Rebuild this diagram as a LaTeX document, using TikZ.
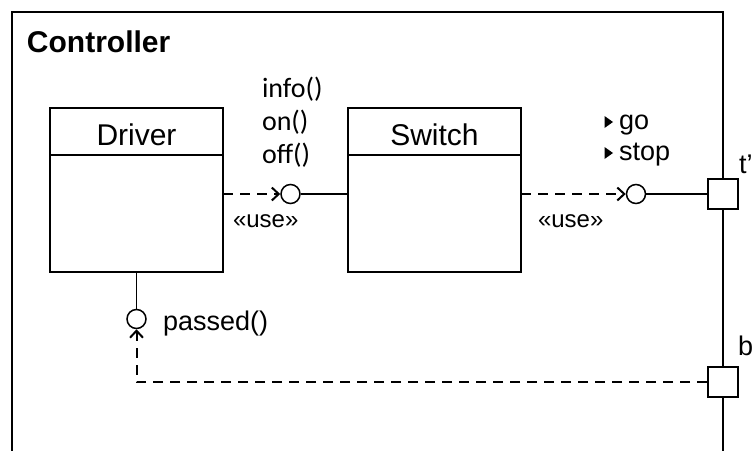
\documentclass[tikz,border=0pt]{standalone}
\usepackage{fontspec}
\setmainfont{Liberation Sans}
\newfontfamily\calfont{Carlito}
\usetikzlibrary{arrows.meta,positioning}

\begin{document}
\begin{tikzpicture}[x=1pt, y=-1pt, line width=2pt,
  box/.style={draw, rectangle, minimum width=173pt, inner sep=0pt, outer sep=0pt, font=\fontsize{30}{30}\selectfont},
  ball/.style={draw, circle, minimum size=19pt, inner sep=0pt, line width=1.5pt, fill=white},
  port/.style={draw, rectangle, minimum size=30pt, inner sep=0pt, fill=white},
  use/.style={dash pattern=on 10pt off 7pt, -{Straight Barb[length=7pt, width=13pt, line width=2pt]}},
  txt/.style={inner sep=0pt, anchor=base west, font=\fontsize{27}{27}\selectfont},
  small/.style={txt, font=\fontsize{24}{24}\selectfont},
  ops/.style={txt, font=\calfont\fontsize{28}{28}\selectfont},
  tri/.style={fill, line width=0pt}]
\useasboundingbox (0,0) rectangle (752,450);
% outer frame, runs on below the page
\draw (12,12) rectangle (723,480);
\node (0)[txt, font=\bfseries\fontsize{30}{30}\selectfont] at (26,52) {Controller};

% the two classes
\node (1)[box, minimum height=47pt, text height=29pt, anchor=north west] at (50,108) {Driver};
\node (2)[box, minimum height=117pt, anchor=north] at (1.south) {};
\node (3)[box, minimum height=47pt, text height=29pt, anchor=north west] at (348,108) {Switch};
\node (4)[box, minimum height=117pt, anchor=north] at (3.south) {};

% interfaces and ports
\node (5)[ball] at (290.5,194) {};
\node (6)[ball] at (636,194) {};
\node (7)[port] at (723,194) {};
\node (8)[port] at (723,382) {};
\node (9)[ball] at (2.south |- 0,319) {};

\node (10)[ops] at (261,97) {info()};
\node (11)[ops] at (261,130) {on()};
\node (12)[ops] at (261,163) {off()};
\node (13)[txt] at (618,129) {go};
\node (14)[txt] at (618,160) {stop};
\node (15)[small] at (232,227) {«use»};
\node (16)[small] at (537,227) {«use»};
\node (17)[txt] at (162,330) {passed()};
\node (18)[txt] at (738,173) {t'};
\node (19)[txt] at (737,355) {b};

% little markers in front of go and stop
\foreach \n in {13,14}
  \fill[tri] ([xshift=-13.5pt,yshift=1pt]\n.base west) -- ++(0,12pt) -- ++(8.5pt,-6pt) -- cycle;

\path (5.east) edge[line width=1.5pt] (4.west |- 5)
      (6.east) edge[line width=1.5pt] (7.west)
      (2.south) edge[line width=1.5pt] (9.north);
\draw[use] (2.east |- 5) -- (5.west);
\draw[use] (4.east |- 6) -- (6.west);
\draw[use] (8.west) -| (9.south);
\end{tikzpicture}
\end{document}
